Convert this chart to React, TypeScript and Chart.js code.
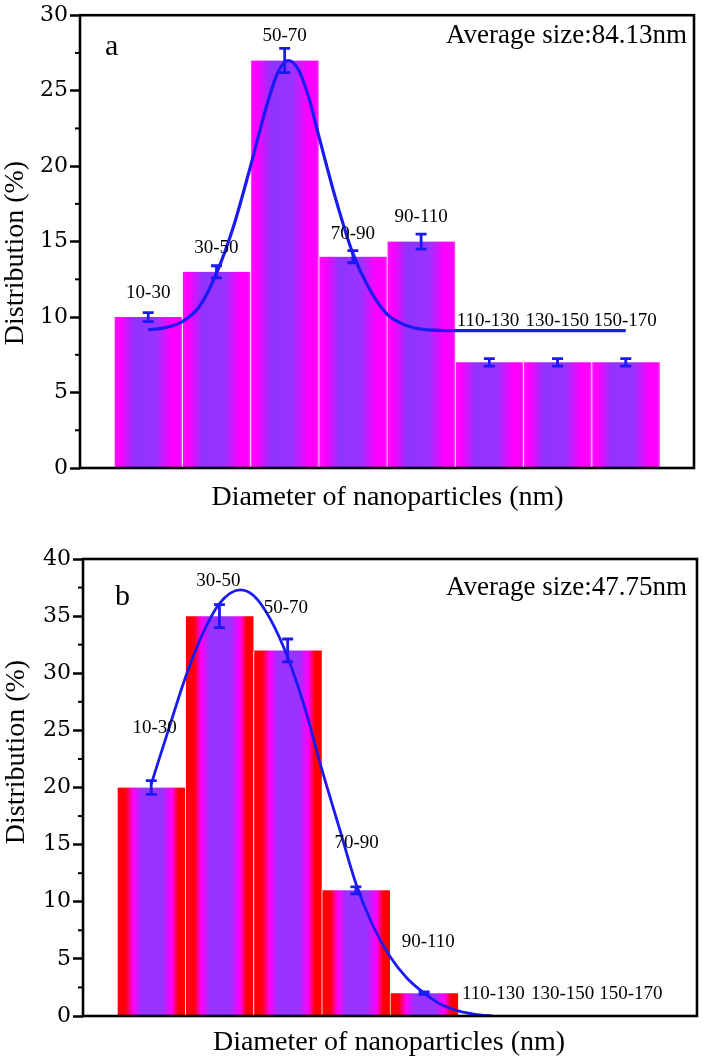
import React, { useEffect, useRef } from 'react';
import { Chart, registerables } from 'chart.js';

Chart.register(...registerables);

// ---------- data ----------
const binLabels = ['10-30', '30-50', '50-70', '70-90', '90-110', '110-130', '130-150', '150-170'];
const binCenters = [20, 40, 60, 80, 100, 120, 140, 160];
const binWidth = 20;

// Panel a
const distA = [10, 13, 27, 14, 15, 7, 7, 7];
const errA = [0.3, 0.4, 0.8, 0.4, 0.5, 0.25, 0.25, 0.25];
const fitXA = [20, 25, 30, 35, 40, 45, 50, 55, 58, 61, 64, 67, 70, 75, 80, 85, 90, 95, 100, 110, 120, 130, 140, 150, 160];
const fitYA = [9.15, 9.3, 9.7, 10.7, 12.9, 16.0, 20.0, 24.2, 26.2, 27.0, 26.4, 24.6, 22.0, 17.8, 14.2, 11.8, 10.2, 9.5, 9.2, 9.1, 9.1, 9.1, 9.1, 9.1, 9.1];
const labelXA = [20, 40, 60, 80, 100, 119.6, 139.9, 159.8];
const labelYA = [11.6, 14.6, 28.6, 15.5, 16.6, 9.75, 9.75, 9.75];
const yTicksA = { max: 30, step: 5 };
const avgA = 'Average size:84.13nm';

// Panel b
const distB = [20, 35, 32, 11, 2, 0, 0, 0];
const errB = [0.6, 1.0, 1.0, 0.3, 0.1, 0, 0, 0];
const fitXB = [20, 25, 30, 35, 40, 46, 50, 55, 60, 65, 70, 75, 80, 85, 90, 95, 100, 105, 110, 115, 120];
const fitYB = [20.3, 25.0, 29.6, 33.4, 36.1, 37.3, 36.8, 34.7, 31.4, 27.0, 21.6, 16.6, 11.6, 7.9, 5.2, 3.3, 2.0, 1.0, 0.45, 0.15, 0.0];
const labelXB = [21, 39.7, 59.5, 80.2, 101.2, 120.3, 140.6, 160.6];
const labelYB = [25.2, 38.1, 35.7, 15.1, 6.5, 1.9, 1.9, 1.9];
const yTicksB = { max: 40, step: 5 };
const avgB = 'Average size:47.75nm';

const xTitle = 'Diameter of nanoparticles (nm)';
const yTitle = 'Distribution (%)';

// ---------- styles ----------
const stopsA: [number, string][] = [
  [0, '#ff10ff'], [0.09, '#ff00ff'], [0.3, '#9033ff'], [0.62, '#9a33ff'], [0.84, '#ff00ff'], [0.96, '#ff00ff'], [1, '#ff40ff'],
];
const stopsB: [number, string][] = [
  [0, '#ff0000'], [0.13, '#ff0010'], [0.24, '#ff00ff'], [0.36, '#9933ff'], [0.66, '#9933ff'], [0.8, '#ff00ff'], [0.9, '#ff0000'], [1, '#ff0000'],
];
const blue = '#1a1af5';
const serif = 'Liberation Serif';

type Spec = {
  top: number;
  height: number;
  pad: { left: number; top: number; right: number; bottom: number };
  yWidth: number;
  xHeight: number;
  yMax: number;
  yStep: number;
  values: number[];
  errors: number[];
  fitX: number[];
  fitY: number[];
  labelX: number[];
  labelY: number[];
  stops: [number, string][];
  letter: string;
  letterPos: [number, number];
  avg: string;
  avgPos: [number, number];
  yTitlePos: [number, number];
  xTitlePos: [number, number];
  curveWidth: number;
};

function Panel({ spec }: { spec: Spec }) {
  const ref = useRef<HTMLCanvasElement | null>(null);
  useEffect(() => {
    const canvas = ref.current;
    if (!canvas) return;

    const bg = (c: any) => {
      const chart = c.chart;
      const xs = chart.scales && chart.scales.x;
      if (!xs || c.type !== 'data' || !c.raw) return spec.stops[3][1];
      const cx = c.raw.x;
      const x0 = xs.getPixelForValue(cx - binWidth / 2);
      const x1 = xs.getPixelForValue(cx + binWidth / 2);
      if (!isFinite(x0) || !isFinite(x1)) return spec.stops[3][1];
      const g = chart.ctx.createLinearGradient(x0, 0, x1, 0);
      spec.stops.forEach(([o, col]) => g.addColorStop(o, col));
      return g;
    };

    const overlay = {
      id: 'overlay',
      afterDatasetsDraw(chart: any) {
        const ctx = chart.ctx;
        const xs = chart.scales.x;
        const ys = chart.scales.y;
        ctx.save();
        // error bars
        ctx.strokeStyle = blue;
        ctx.lineWidth = 2.8;
        spec.values.forEach((v, i) => {
          const e = spec.errors[i];
          if (!v) return;
          const x = xs.getPixelForValue(binCenters[i]);
          const yt = ys.getPixelForValue(v + e);
          const yb = ys.getPixelForValue(v - e);
          ctx.beginPath();
          ctx.moveTo(x, yt);
          ctx.lineTo(x, yb);
          ctx.moveTo(x - 5.5, yt);
          ctx.lineTo(x + 5.5, yt);
          ctx.moveTo(x - 5.5, yb);
          ctx.lineTo(x + 5.5, yb);
          ctx.stroke();
        });
        ctx.restore();
      },
      afterDraw(chart: any) {
        const ctx = chart.ctx;
        const xs = chart.scales.x;
        const ys = chart.scales.y;
        const a = chart.chartArea;
        ctx.save();
        // frame
        ctx.strokeStyle = '#000';
        ctx.lineWidth = 2.6;
        ctx.strokeRect(a.left, a.top, a.right - a.left, a.bottom - a.top);
        // minor ticks
        ctx.lineWidth = 2;
        for (let v = spec.yStep / 2; v < spec.yMax; v += spec.yStep) {
          const y = ys.getPixelForValue(v);
          ctx.beginPath();
          ctx.moveTo(a.left - 5, y);
          ctx.lineTo(a.left, y);
          ctx.stroke();
        }
        // bin labels
        ctx.fillStyle = '#000';
        ctx.font = `19px "${serif}"`;
        ctx.textAlign = 'center';
        ctx.textBaseline = 'middle';
        binLabels.forEach((t, i) => {
          ctx.fillText(t, xs.getPixelForValue(spec.labelX[i]), ys.getPixelForValue(spec.labelY[i]));
        });
        // panel letter
        ctx.textAlign = 'left';
        ctx.textBaseline = 'alphabetic';
        ctx.font = `30px "${serif}"`;
        ctx.fillText(spec.letter, spec.letterPos[0], spec.letterPos[1]);
        // average size
        ctx.textAlign = 'right';
        ctx.font = `27px "${serif}"`;
        ctx.fillText(spec.avg, spec.avgPos[0], spec.avgPos[1]);
        // x title
        ctx.textAlign = 'center';
        ctx.font = `28px "${serif}"`;
        ctx.fillText(xTitle, spec.xTitlePos[0], spec.xTitlePos[1]);
        // y title
        ctx.translate(spec.yTitlePos[0], spec.yTitlePos[1]);
        ctx.rotate(-Math.PI / 2);
        ctx.fillText(yTitle, 0, 0);
        ctx.restore();
      },
    };

    const chart = new Chart(canvas, {
      type: 'bar',
      data: {
        datasets: [
          {
            type: 'line',
            data: spec.fitX.map((x, i) => ({ x, y: spec.fitY[i] })),
            borderColor: blue,
            borderWidth: spec.curveWidth,
            pointRadius: 0,
            cubicInterpolationMode: 'monotone',
            fill: false,
            order: 0,
          } as any,
          {
            type: 'bar',
            data: binCenters.map((x, i) => ({ x, y: spec.values[i] })),
            backgroundColor: bg,
            borderColor: 'rgba(255,225,255,0.95)',
            borderWidth: { left: 1, right: 0, top: 0, bottom: 0 },
            borderSkipped: false,
            barPercentage: 1,
            categoryPercentage: 1,
            grouped: false,
            order: 1,
          } as any,
        ],
      },
      options: {
        responsive: false,
        animation: false,
        events: [],
        layout: { padding: spec.pad },
        plugins: { legend: { display: false }, tooltip: { enabled: false } },
        scales: {
          x: {
            type: 'linear',
            min: 0,
            max: 180,
            offset: false,
            ticks: { display: false },
            grid: { display: false, offset: false },
            border: { display: false },
            afterFit: (s: any) => {
              s.height = spec.xHeight;
            },
          },
          y: {
            type: 'linear',
            min: 0,
            max: spec.yMax,
            ticks: {
              stepSize: spec.yStep,
              color: '#000',
              padding: 2,
              font: { family: 'DejaVu Serif', size: 22 },
            },
            grid: {
              drawOnChartArea: false,
              drawTicks: true,
              tickLength: 10,
              tickWidth: 2.5,
              tickColor: '#000',
            },
            border: { display: false },
            afterFit: (s: any) => {
              s.width = spec.yWidth;
            },
          },
        },
      } as any,
      plugins: [overlay],
    });
    return () => chart.destroy();
  }, [spec]);

  return (
    <canvas
      ref={ref}
      width={708}
      height={spec.height}
      style={{ position: 'absolute', left: 0, top: spec.top, width: 708, height: spec.height }}
    />
  );
}

const specA: Spec = {
  top: 0,
  height: 520,
  pad: { left: 0, top: 13, right: 14, bottom: 0 },
  yWidth: 80,
  xHeight: 52,
  yMax: yTicksA.max,
  yStep: yTicksA.step,
  values: distA,
  errors: errA,
  fitX: fitXA,
  fitY: fitYA,
  labelX: labelXA,
  labelY: labelYA,
  stops: stopsA,
  letter: 'a',
  letterPos: [105, 55],
  avg: avgA,
  avgPos: [687, 43],
  yTitlePos: [23, 253],
  xTitlePos: [387.5, 505],
  curveWidth: 3.2,
};

const specB: Spec = {
  top: 520,
  height: 541,
  pad: { left: 0, top: 39, right: 11, bottom: 0 },
  yWidth: 83,
  xHeight: 45,
  yMax: yTicksB.max,
  yStep: yTicksB.step,
  values: distB,
  errors: errB,
  fitX: fitXB,
  fitY: fitYB,
  labelX: labelXB,
  labelY: labelYB,
  stops: stopsB,
  letter: 'b',
  letterPos: [115, 85],
  avg: avgB,
  avgPos: [687, 75],
  yTitlePos: [24, 232],
  xTitlePos: [389, 530],
  curveWidth: 2.8,
};

export default function App() {
  return (
    <div style={{ position: 'absolute', left: 0, top: 0, width: 708, height: 1061, background: '#fff' }}>
      <Panel spec={specA} />
      <Panel spec={specB} />
    </div>
  );
}
